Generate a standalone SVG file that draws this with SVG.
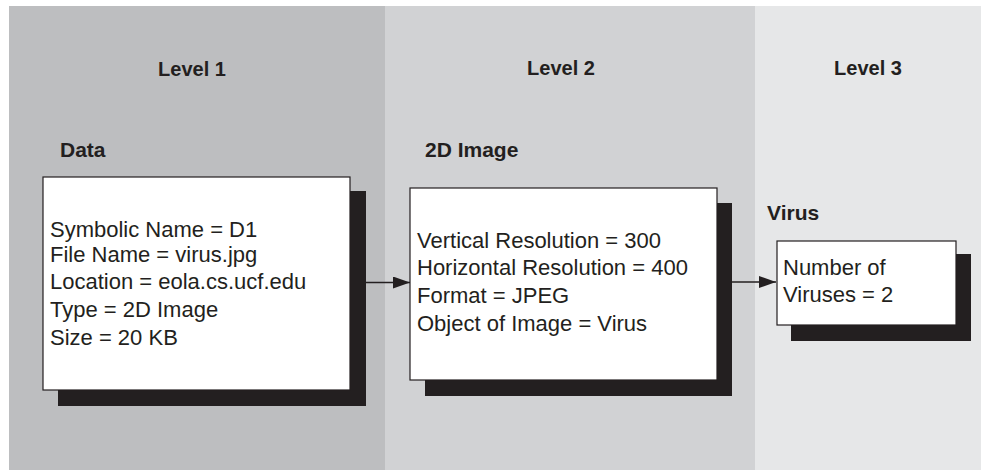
<svg xmlns="http://www.w3.org/2000/svg" width="981" height="470" viewBox="0 0 981 470">
<defs>
<style>
.hdr{font-family:"Liberation Sans",Arial,sans-serif;font-weight:bold;font-size:20px;fill:#231f20}
.ttl{font-family:"Liberation Sans",Arial,sans-serif;font-weight:bold;font-size:21px;fill:#231f20}
.txt{font-family:"Liberation Sans",Arial,sans-serif;font-size:22px;fill:#231f20}
.box{fill:#ffffff;stroke:#231f20;stroke-width:1.2}
.shadow{fill:#231f20}
.conn{stroke:#231f20;stroke-width:1.5;fill:none}
</style>
<marker id="arr" viewBox="0 0 17 12" refX="17" refY="6" markerWidth="17" markerHeight="12" markerUnits="userSpaceOnUse" orient="auto">
<path d="M0,0 L17,6 L0,12 Z" fill="#231f20"/>
</marker>
</defs>
<rect width="981" height="470" fill="#ffffff"/>
<g id="panels">
<rect x="9" y="6" width="376" height="464" fill="#bdbec0"/>
<rect x="385" y="6" width="370" height="464" fill="#d1d2d4"/>
<rect x="755" y="6" width="226" height="464" fill="#e6e7e8"/>
<text class="hdr" x="192" y="76" text-anchor="middle">Level 1</text>
<text class="hdr" x="561" y="75" text-anchor="middle">Level 2</text>
<text class="hdr" x="868" y="75" text-anchor="middle">Level 3</text>
</g>
<g id="connectors">
<line class="conn" x1="350" y1="282.5" x2="410" y2="282.5" marker-end="url(#arr)"/>
<line class="conn" x1="717" y1="282" x2="776" y2="282" marker-end="url(#arr)"/>
</g>
<g id="node-data">
<text class="ttl" x="60" y="157">Data</text>
<rect class="shadow" x="58" y="191" width="308" height="215"/>
<rect class="box" x="43" y="177" width="307" height="213"/>
<text class="txt" x="50" y="237">Symbolic Name = D1</text>
<text class="txt" x="50" y="262">File Name = virus.jpg</text>
<text class="txt" x="50" y="289">Location = eola.cs.ucf.edu</text>
<text class="txt" x="50" y="317">Type = 2D Image</text>
<text class="txt" x="50" y="345">Size = 20 KB</text>
</g>
<g id="node-image">
<text class="ttl" x="425" y="157">2D Image</text>
<rect class="shadow" x="425" y="203" width="307" height="193"/>
<rect class="box" x="410" y="188" width="307" height="192"/>
<text class="txt" x="417" y="248">Vertical Resolution = 300</text>
<text class="txt" x="417" y="275">Horizontal Resolution = 400</text>
<text class="txt" x="417" y="303">Format = JPEG</text>
<text class="txt" x="417" y="331">Object of Image = Virus</text>
</g>
<g id="node-virus">
<text class="ttl" x="767" y="220">Virus</text>
<rect class="shadow" x="791" y="254" width="180" height="87"/>
<rect class="box" x="777" y="241" width="179" height="84"/>
<text class="txt" x="783" y="275">Number of</text>
<text class="txt" x="783" y="302">Viruses = 2</text>
</g>
</svg>
